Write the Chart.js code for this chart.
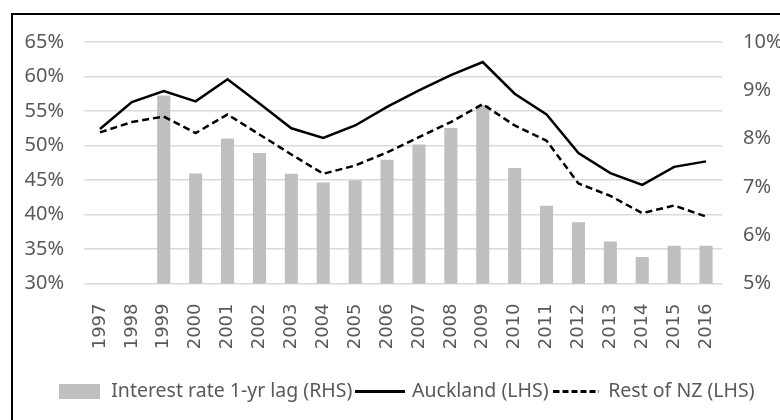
<!DOCTYPE html>
<html>
<head>
<meta charset="utf-8">
<script src="https://cdn.jsdelivr.net/npm/chart.js@4.4.1/dist/chart.umd.min.js"></script>
<style>
  html, body { margin: 0; padding: 0; background: #fff; }
  #wrap { position: relative; width: 780px; height: 420px; }
</style>
</head>
<body>
<div id="wrap"><canvas id="chart" width="780" height="420"></canvas></div>
<script>
const years = ["1997", "1998", "1999", "2000", "2001", "2002", "2003", "2004", "2005", "2006",
  "2007", "2008", "2009", "2010", "2011", "2012", "2013", "2014", "2015", "2016"];
// interest rate, 1-yr lag (%, right axis)
const interestRate = [null, null, 8.89, 7.28, 8.0, 7.7, 7.27, 7.09, 7.14, 7.56,
  7.88, 8.22, 8.69, 7.39, 6.61, 6.27, 5.87, 5.55, 5.78, 5.78];
// left axis (%)
const auckland = [52.4, 56.3, 57.9, 56.4, 59.6, 56.1, 52.5, 51.1, 52.9, 55.6,
  58.0, 60.2, 62.1, 57.5, 54.5, 48.9, 46.0, 44.3, 46.9, 47.7];
const restOfNZ = [51.9, 53.4, 54.2, 51.8, 54.5, 51.6, 48.7, 45.9, 47.1, 49.0,
  51.2, 53.4, 56.0, 52.9, 50.7, 44.5, 42.7, 40.2, 41.3, 39.7];
const leftTicks = [30, 35, 40, 45, 50, 55, 60, 65];
const rightTicks = [5, 6, 7, 8, 9, 10];
const legendText = ["Interest rate 1-yr lag (RHS)", "Auckland (LHS)", "Rest of NZ (LHS)"];

const grey = "#595959";

// legend swatches
function swatch(w, h, draw) {
  const c = document.createElement("canvas");
  c.width = w; c.height = h;
  draw(c.getContext("2d"));
  return c;
}
const barSwatch = swatch(41, 15, (g) => { g.fillStyle = "#bfbfbf"; g.fillRect(0, 0, 41, 15); });
const solidSwatch = swatch(50, 3, (g) => { g.fillStyle = "#000"; g.fillRect(0, 0, 50, 3); });
const dashSwatch = swatch(46, 3, (g) => {
  g.fillStyle = "#000";
  for (let x = 0; x < 46; x += 9) g.fillRect(x, 0, 6, 3);
});

const framePlugin = {
  id: "frame",
  afterLayout(chart) {
    // legend row sits a little right of centre in the original
    chart.legend.left += 10;
    chart.legend.right += 10;
  },
  afterDraw(chart) {
    const ctx = chart.ctx;
    ctx.save();
    ctx.strokeStyle = "#000";
    ctx.lineWidth = 2;
    ctx.strokeRect(12, 14, 900, 600);
    ctx.restore();
  },
};

new Chart(document.getElementById("chart"), {
  type: "bar",
  data: {
    labels: years,
    datasets: [
      {
        type: "line",
        label: legendText[1],
        data: auckland,
        yAxisID: "y",
        borderColor: "#000",
        borderWidth: 2.5,
        pointRadius: 0,
        tension: 0,
        order: 1,
      },
      {
        type: "line",
        label: legendText[2],
        data: restOfNZ,
        yAxisID: "y",
        borderColor: "#000",
        borderWidth: 2.5,
        borderDash: [7, 4],
        pointRadius: 0,
        tension: 0,
        order: 1,
      },
      {
        type: "bar",
        label: legendText[0],
        data: interestRate,
        yAxisID: "y1",
        backgroundColor: "#bfbfbf",
        categoryPercentage: 1,
        barPercentage: 0.41,
        order: 2,
      },
    ],
  },
  options: {
    responsive: false,
    animation: false,
    layout: { padding: { left: 12, right: 0, top: 42, bottom: 9 } },
    plugins: {
      tooltip: { enabled: false },
      legend: {
        position: "bottom",
        labels: {
          usePointStyle: true,
          pointStyleWidth: 44,
          padding: 6,
          color: grey,
          font: { family: "'Noto Sans'", size: 19.5 },
          generateLabels: () => [
            { text: legendText[0], pointStyle: barSwatch, datasetIndex: 2, fillStyle: "#bfbfbf", strokeStyle: "#bfbfbf", lineWidth: 0, fontColor: grey },
            { text: legendText[1], pointStyle: solidSwatch, datasetIndex: 0, fillStyle: "#000", strokeStyle: "#000", lineWidth: 0, fontColor: grey },
            { text: legendText[2], pointStyle: dashSwatch, datasetIndex: 1, fillStyle: "#000", strokeStyle: "#000", lineWidth: 0, fontColor: grey },
          ],
        },
      },
    },
    scales: {
      x: {
        grid: { display: false, drawTicks: false },
        border: { display: false },
        ticks: {
          color: grey,
          font: { family: "'DejaVu Sans'", size: 18 },
          minRotation: 90,
          maxRotation: 90,
          padding: 20,
          autoSkip: false,
        },
        afterFit: (s) => { s.height = 92; },
      },
      y: {
        position: "left",
        min: 30,
        max: 65,
        afterBuildTicks: (s) => { s.ticks = leftTicks.map((v) => ({ value: v })); },
        grid: { color: "#d9d9d9", lineWidth: 1.5, drawTicks: false },
        border: { display: false },
        ticks: {
          color: grey,
          font: { family: "'Noto Sans'", size: 20 },
          padding: 20,
          callback: (v) => v + "%",
        },
        afterFit: (s) => { s.width = 72; },
      },
      y1: {
        position: "right",
        min: 5,
        max: 10,
        afterBuildTicks: (s) => { s.ticks = rightTicks.map((v) => ({ value: v })); },
        grid: { display: false, drawTicks: false },
        border: { display: false },
        ticks: {
          color: grey,
          font: { family: "'Noto Sans'", size: 20 },
          padding: 21,
          callback: (v) => v + "%",
        },
        afterFit: (s) => { s.width = 58; },
      },
    },
  },
  plugins: [framePlugin],
});
</script>
</body>
</html>
